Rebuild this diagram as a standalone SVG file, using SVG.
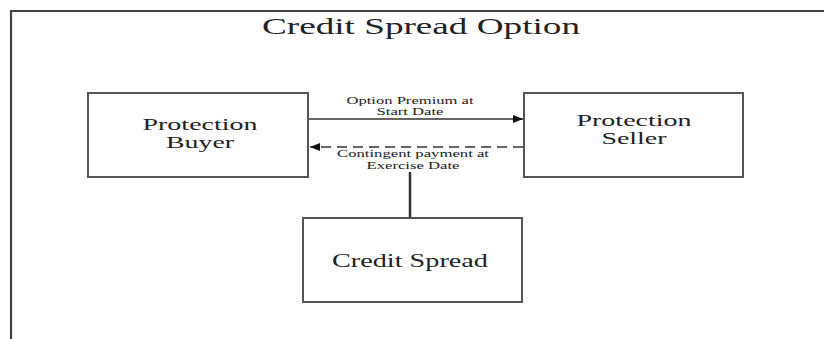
<svg xmlns="http://www.w3.org/2000/svg" width="824" height="339" viewBox="0 0 824 339">
<defs>
<style>
.box{fill:#fff;stroke:#555;stroke-width:2}
.t{font-family:"Liberation Serif",serif;fill:#222;text-anchor:middle}
.lbl{font-size:11px}
.node{font-size:17px}
.ln{stroke:#333;stroke-width:1.5;fill:none}
</style>
<marker id="ah" viewBox="0 0 10 8" refX="10" refY="4" markerWidth="10" markerHeight="8" markerUnits="userSpaceOnUse" orient="auto">
<path d="M0,0 L10,4 L0,8 z" fill="#111"/>
</marker>
</defs>
<rect width="824" height="339" fill="#fff"/>
<g id="frame">
<path d="M11,339 V11 H824" fill="none" stroke="#444" stroke-width="2.2"/>
<text class="t" x="421" y="34" font-size="24" textLength="318" lengthAdjust="spacingAndGlyphs">Credit Spread Option</text>
</g>
<g id="connectors">
<line class="ln" x1="309" y1="119" x2="523" y2="119" marker-end="url(#ah)"/>
<line class="ln" x1="523" y1="147" x2="310" y2="147" stroke-dasharray="10,6" marker-end="url(#ah)"/>
<line x1="410" y1="172" x2="410" y2="218" stroke="#333" stroke-width="2.5"/>
<text class="t lbl" x="410" y="104" textLength="127" lengthAdjust="spacingAndGlyphs">Option Premium at</text>
<text class="t lbl" x="410" y="115" textLength="67" lengthAdjust="spacingAndGlyphs">Start Date</text>
<text class="t lbl" x="413" y="157" textLength="152" lengthAdjust="spacingAndGlyphs">Contingent payment at</text>
<text class="t lbl" x="413" y="169" textLength="93" lengthAdjust="spacingAndGlyphs">Exercise Date</text>
</g>
<g id="buyer">
<rect class="box" x="88" y="93" width="220" height="84"/>
<text class="t node" x="200" y="130" textLength="115" lengthAdjust="spacingAndGlyphs">Protection</text>
<text class="t node" x="200" y="148" textLength="68" lengthAdjust="spacingAndGlyphs">Buyer</text>
</g>
<g id="seller">
<rect class="box" x="524" y="93" width="219" height="84"/>
<text class="t node" x="634" y="126" textLength="115" lengthAdjust="spacingAndGlyphs">Protection</text>
<text class="t node" x="634" y="144" textLength="65" lengthAdjust="spacingAndGlyphs">Seller</text>
</g>
<g id="spread">
<rect class="box" x="303" y="218" width="219" height="84"/>
<text class="t" x="410" y="267" font-size="18" textLength="156" lengthAdjust="spacingAndGlyphs">Credit Spread</text>
</g>
</svg>
